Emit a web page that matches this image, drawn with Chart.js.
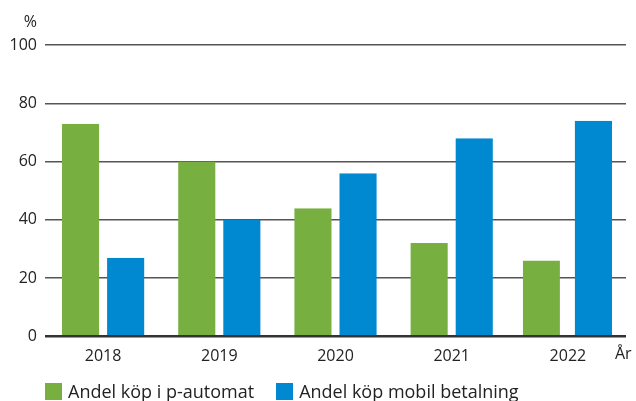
<!DOCTYPE html>
<html>
<head>
<meta charset="utf-8">
<script src="https://cdn.jsdelivr.net/npm/chart.js@4.4.1/dist/chart.umd.min.js"></script>
<style>
html,body{margin:0;padding:0;background:#fff;}
#wrap{width:636px;height:401px;position:relative;overflow:hidden;}
#legend{position:absolute;left:45px;top:382px;display:flex;align-items:center;font-family:'Open Sans','DejaVu Sans',sans-serif;font-size:18px;color:#222;line-height:19px;}
#legend .item{display:flex;align-items:center;margin-right:22px;white-space:nowrap;}
#legend .box{width:17px;height:17px;margin-right:6px;flex:none;}
</style>
</head>
<body>
<div id="wrap"><canvas id="c" width="636" height="401"></canvas><div id="legend"></div></div>
<script>
const categories = ["2018", "2019", "2020", "2021", "2022"];
const seriesNames = ["Andel köp i p-automat", "Andel köp mobil betalning"];
const automatValues = [73, 60, 44, 32, 26];
const mobilValues = [27, 40, 56, 68, 74];
const yTicks = [0, 20, 40, 60, 80, 100];
const yUnit = "%";
const xUnit = "År";

const FONT = "'Open Sans', 'DejaVu Sans', sans-serif";
const TEXT = "#222222";

const unitsPlugin = {
  id: 'units',
  afterDraw(chart) {
    const {ctx, chartArea} = chart;
    ctx.save();
    ctx.fillStyle = TEXT;
    ctx.font = "16px " + FONT;
    ctx.textAlign = 'right';
    ctx.textBaseline = 'middle';
    ctx.fillText(yUnit, chartArea.left - 8, chartArea.top - 23);
    ctx.textAlign = 'left';
    ctx.fillText(xUnit, chartArea.right - 11, chartArea.bottom + 18.5);
    ctx.restore();
  }
};

const chart = new Chart(document.getElementById('c'), {
  type: 'bar',
  data: {
    labels: categories,
    datasets: [
      {
        label: seriesNames[0],
        data: automatValues,
        backgroundColor: '#77b041',
        borderColor: 'rgba(0,0,0,0)',
        borderWidth: (c) => c.dataIndex === 4 ? {left: 0, right: 8, top: 0, bottom: 0} : {left: 4, right: 4, top: 0, bottom: 0},
        borderSkipped: false
      },
      {
        label: seriesNames[1],
        data: mobilValues,
        backgroundColor: '#0088d1',
        borderColor: 'rgba(0,0,0,0)',
        borderWidth: (c) => c.dataIndex === 4 ? {left: 7, right: 1, top: 0, bottom: 0} : {left: 4, right: 4, top: 0, bottom: 0},
        borderSkipped: false
      }
    ]
  },
  options: {
    responsive: false,
    devicePixelRatio: 1,
    animation: false,
    categoryPercentage: 0.776,
    barPercentage: 1,
    layout: {padding: {left: 0, right: 10, top: 45, bottom: 24.5}},
    scales: {
      x: {
        grid: {display: false, drawTicks: false},
        border: {display: false},
        ticks: {color: TEXT, font: {family: FONT, size: 16}, padding: 10.5, maxRotation: 0}
      },
      y: {
        min: 0, max: 100,
        afterFit(s) { s.width = 45; },
        afterBuildTicks(s) { s.ticks = yTicks.map(v => ({value: v})); },
        grid: {
          drawTicks: false,
          color: (c) => c.tick && c.tick.value === 0 ? '#333333' : '#555555',
          lineWidth: (c) => c.tick && c.tick.value === 0 ? 2.5 : 1.5
        },
        border: {display: false},
        ticks: {color: TEXT, font: {family: FONT, size: 16}, padding: 8}
      }
    },
    plugins: {
      tooltip: {enabled: false},
      legend: {display: false}
    }
  },
  plugins: [unitsPlugin]
});

const legendEl = document.getElementById('legend');
chart.data.datasets.forEach(ds => {
  const item = document.createElement('div');
  item.className = 'item';
  const box = document.createElement('span');
  box.className = 'box';
  box.style.background = ds.backgroundColor;
  const txt = document.createElement('span');
  txt.textContent = ds.label;
  item.appendChild(box);
  item.appendChild(txt);
  legendEl.appendChild(item);
});
</script>
</body>
</html>
